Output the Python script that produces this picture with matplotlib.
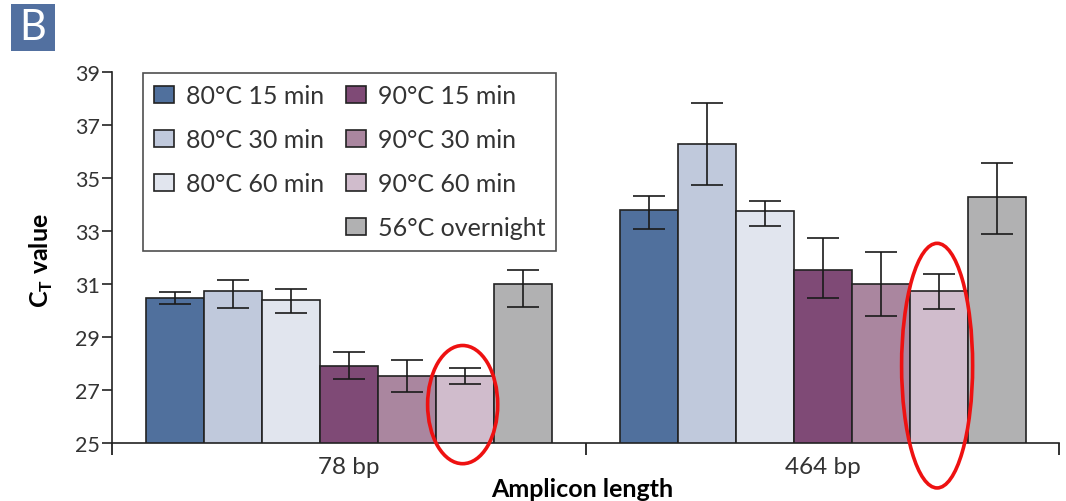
"""Ct values vs amplicon length for different heat treatments (panel B)."""
import numpy as np
import matplotlib
matplotlib.use("Agg")
import matplotlib.pyplot as plt
from matplotlib.patches import Ellipse, Rectangle, Patch

plt.rcParams.update({
    "font.family": ["Lato", "DejaVu Sans"],
    "mathtext.fontset": "custom",
    "mathtext.rm": "Lato",
    "mathtext.bf": "Lato:bold",
})

categories = ["78 bp", "464 bp"]
conditions = ["80°C 15 min", "80°C 30 min", "80°C 60 min",
              "90°C 15 min", "90°C 30 min", "90°C 60 min", "56°C overnight"]
colors = ["#50709d", "#c0c9dc", "#e1e5ee",
          "#7f4a76", "#aa869f", "#d0bccc", "#b1b1b2"]

# mean Ct per condition, one list per amplicon
ct_78 = [30.46, 30.72, 30.40, 27.92, 27.52, 27.52, 30.99]
ct_464 = [33.80, 36.29, 33.74, 31.53, 30.99, 30.74, 34.28]
# error bar ends (upper / lower)
hi_78 = [30.68, 31.14, 30.80, 28.45, 28.13, 27.84, 31.52]
lo_78 = [30.26, 30.11, 29.92, 27.40, 26.92, 27.24, 30.13]
hi_464 = [34.33, 37.83, 34.14, 32.73, 32.21, 31.39, 35.56]
lo_464 = [33.07, 34.74, 33.20, 30.46, 29.79, 30.07, 32.87]

means = np.array([ct_78, ct_464])
upper = np.array([hi_78, hi_464])
lower = np.array([lo_78, lo_464])

fig = plt.figure(figsize=(10.66, 5.02), dpi=100)
ax = fig.add_axes([0.1053, 0.1155, 0.8884, 0.7391])

x = np.arange(len(categories))
w = 0.1225
for i, (lab, col) in enumerate(zip(conditions, colors)):
    xs = x + (i - 3) * w
    ax.bar(xs, means[:, i], w, bottom=0, color=col, edgecolor="#222222",
           linewidth=1.2, zorder=2)
    yerr = np.vstack([means[:, i] - lower[:, i], upper[:, i] - means[:, i]])
    ax.errorbar(xs, means[:, i], yerr=yerr, fmt="none", ecolor="#1a1a1a",
                elinewidth=1.2, capsize=11.4, capthick=1.2, zorder=3)

ax.set_ylim(25, 39)
ax.set_xlim(-0.5, 1.5)
ax.set_yticks(np.arange(25, 40, 2))
ax.set_xticks(x, categories)
ax.set_xticks([-0.5, 0.5, 1.5], minor=True)
ax.tick_params(axis="x", which="major", length=0, pad=9, labelsize=17.5,
               labelcolor="#333333")
ax.tick_params(axis="x", which="minor", length=8.6, width=1.3, direction="out",
               color="#222222")
ax.tick_params(axis="y", length=7, width=1.2, pad=2, labelsize=15.5,
               labelcolor="#333333", color="#222222")
for s in ["top", "right"]:
    ax.spines[s].set_visible(False)
for s in ["left", "bottom"]:
    ax.spines[s].set_linewidth(1.2)
    ax.spines[s].set_color("#222222")

# annotation circles around the 90°C 60 min bars
ax.add_patch(Ellipse((0.240, 26.45), 0.148, 4.46, fill=False, ec="#ee1111",
                     lw=2.6, clip_on=False, zorder=4))
ax.add_patch(Ellipse((1.242, 27.92), 0.150, 9.23, fill=False, ec="#ee1111",
                     lw=2.6, clip_on=False, zorder=4))

handles = [Patch(fc=c, ec="#222222", lw=1.2) for c in colors]
blank = Patch(fc="none", ec="none")
order = handles[:3] + [blank] + handles[3:]
labels = conditions[:3] + [""] + conditions[3:]
leg = ax.legend(order, labels, ncol=2, loc="upper left",
                bbox_to_anchor=(0.0327, 0.997), borderaxespad=0,
                fontsize=18, frameon=True, fancybox=False,
                edgecolor="#222222", handlelength=0.8, handleheight=0.7,
                handletextpad=0.45, columnspacing=0.9, labelspacing=0.84,
                borderpad=0.45)
leg.get_frame().set_linewidth(1.2)
for t in leg.get_texts():
    t.set_color("#333333")

fig.text(0.039, 0.48, r"$\mathbf{C}_\mathbf{T}$ value", rotation=90,
         ha="center", va="center", fontsize=18, fontweight="bold")
fig.text(0.546, 0.01, "Amplicon length", ha="center", va="baseline",
         fontsize=18, fontweight="bold")

# panel letter
fig.patches.append(Rectangle((0.0103, 0.8964), 0.0413, 0.0936,
                             transform=fig.transFigure, fc="#5270a0",
                             ec="none"))
fig.text(0.0309, 0.944, "B", color="white", ha="center", va="center",
         fontsize=30)

fig.savefig("out.png", dpi=100)
